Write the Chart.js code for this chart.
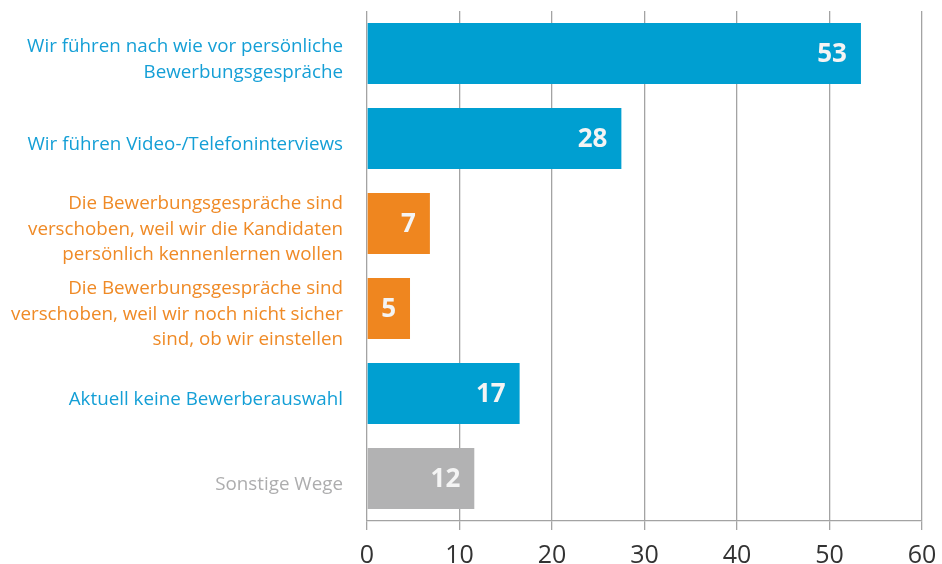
<!DOCTYPE html>
<html>
<head>
<meta charset="utf-8">
<script src="https://cdn.jsdelivr.net/npm/chart.js@4/dist/chart.umd.min.js"></script>
<style>
  html, body { margin: 0; padding: 0; background: #fff; }
  #wrap { width: 942px; height: 564px; }
</style>
</head>
<body>
<div id="wrap"><canvas id="chartWege"></canvas></div>
<script>
const categories = [
  ['Wir führen nach wie vor persönliche', 'Bewerbungsgespräche'],
  'Wir führen Video-/Telefoninterviews',
  ['Die Bewerbungsgespräche sind', 'verschoben, weil wir die Kandidaten', 'persönlich kennenlernen wollen'],
  ['Die Bewerbungsgespräche sind', 'verschoben, weil wir noch nicht sicher', 'sind, ob wir einstellen'],
  'Aktuell keine Bewerberauswahl',
  'Sonstige Wege'
];
const values = [53.4, 27.5, 6.8, 4.65, 16.5, 11.6];
const barColors = ['#009FD1', '#009FD1', '#EF861F', '#EF861F', '#009FD1', '#B2B2B3'];
const labelColors = ['#149FD6', '#149FD6', '#EF8A26', '#EF8A26', '#149FD6', '#ADADAE'];
const xTicks = [0, 10, 20, 30, 40, 50, 60];

const FONT = "'Open Sans', 'Noto Sans', sans-serif";

// white values at the end of each bar
const valueLabels = {
  id: 'valueLabels',
  afterDatasetsDraw(chart) {
    const { ctx } = chart;
    const meta = chart.getDatasetMeta(0);
    ctx.save();
    ctx.font = `bold 26px ${FONT}`;
    ctx.fillStyle = '#F4F4F4';
    ctx.textAlign = 'right';
    ctx.textBaseline = 'middle';
    meta.data.forEach((bar, i) => {
      ctx.fillText(String(Math.round(values[i])), bar.x - 14, bar.y + 1);
    });
    ctx.restore();
  }
};

new Chart(document.getElementById('chartWege'), {
  type: 'bar',
  data: {
    labels: categories,
    datasets: [{
      data: values,
      backgroundColor: barColors,
      borderWidth: 0,
      categoryPercentage: 1,
      barPercentage: 0.72
    }]
  },
  plugins: [valueLabels],
  options: {
    indexAxis: 'y',
    responsive: true, maintainAspectRatio: false,
    animation: false,
    layout: { padding: { top: 11, right: 20, left: 0, bottom: 0 } },
    plugins: { legend: { display: false }, tooltip: { enabled: false } },
    scales: {
      x: {
        min: 0, max: 60,
        afterBuildTicks: ax => { ax.ticks = xTicks.map(v => ({ value: v })); },
        afterFit: ax => { ax.height = 43; ax.paddingLeft = 0; ax.paddingRight = 0; },
        grid: { color: '#A3A3A3', lineWidth: 1.3, tickLength: 9, drawTicks: true },
        border: { color: '#A3A3A3', width: 1.3 },
        ticks: { color: '#333', font: { family: FONT, size: 25 }, padding: 11, maxRotation: 0 }
      },
      y: {
        afterFit: ax => { ax.width = 367; ax.paddingTop = 0; ax.paddingBottom = 0; },
        grid: { display: false },
        border: { display: false },
        ticks: {
          color: c => labelColors[c.index],
          font: { family: FONT, size: 18.8, lineHeight: 1.36 },
          padding: 16,
          labelOffset: 6,
          autoSkip: false
        }
      }
    }
  }
});
</script>
</body>
</html>
